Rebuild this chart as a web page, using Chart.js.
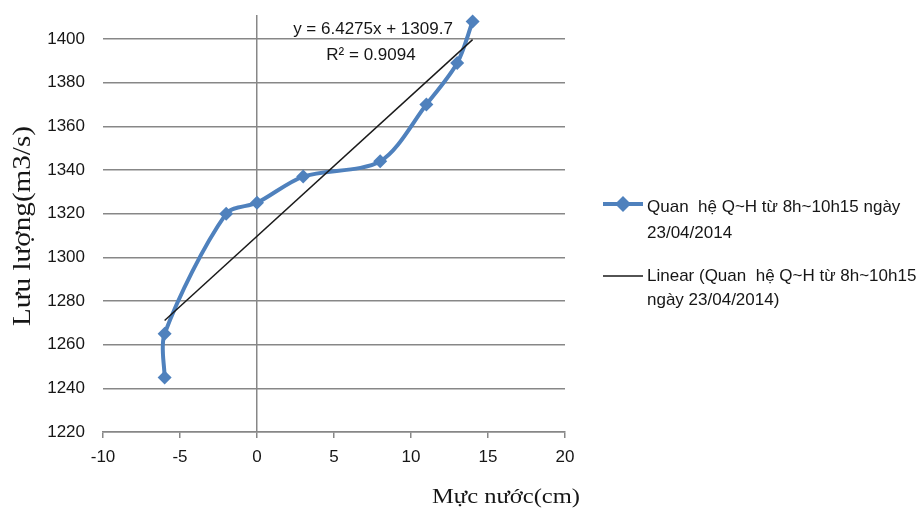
<!DOCTYPE html>
<html>
<head>
<meta charset="utf-8">
<script src="https://cdn.jsdelivr.net/npm/chart.js@4/dist/chart.umd.min.js"></script>
<style>
html,body{margin:0;padding:0;background:#fff;}
#wrap{position:relative;width:920px;height:512px;}
</style>
</head>
<body>
<div id="wrap"><canvas id="c" width="920" height="512"></canvas></div>
<script>
// ---- data ----
const waterLevel = [-6, -6, -2, 0, 3, 8, 11, 13, 14];          // Mực nước (cm)
const discharge  = [1245, 1265, 1320, 1325, 1337, 1344, 1370, 1389, 1408]; // Lưu lượng (m3/s)
const trendX = [-6, 14];
const trendY = [1271.1, 1399.7];
const xTicks = [-10, -5, 0, 5, 10, 15, 20];
const yTicks = [1220, 1240, 1260, 1280, 1300, 1320, 1340, 1360, 1380, 1400];

const seriesLabel = 'Quan  hệ Q~H từ 8h~10h15 ngày 23/04/2014';
const trendLabel = 'Linear (Quan  hệ Q~H từ 8h~10h15 ngày 23/04/2014)';
const legendLines1 = ['Quan  hệ Q~H từ 8h~10h15 ngày', '23/04/2014'];
const legendLines2 = ['Linear (Quan  hệ Q~H từ 8h~10h15', 'ngày 23/04/2014)'];
const eqText = 'y = 6.4275x + 1309.7';
const r2Text = 'R² = 0.9094';
const xTitle = 'Mực nước(cm)';
const yTitle = 'Lưu lượng(m3/s)';

const BLUE = '#4F81BD';
const GRID = '#878787';
const TXT = '#161616';
const SANS = '"Liberation Sans", Arial, sans-serif';
const SERIF = '"Liberation Serif", "Times New Roman", serif';

function fitText(ctx, text, cx, cy, targetLen, rotate) {
  ctx.save();
  ctx.translate(cx, cy);
  if (rotate) ctx.rotate(-Math.PI / 2);
  const w = ctx.measureText(text).width;
  ctx.scale(targetLen / w, 1);
  ctx.textAlign = 'center';
  ctx.textBaseline = 'middle';
  ctx.fillText(text, 0, 0);
  ctx.restore();
}

const extras = {
  id: 'extras',
  afterDraw(chart) {
    const ctx = chart.ctx;
    ctx.save();
    ctx.fillStyle = TXT;
    // trendline equation
    ctx.font = '17px ' + SANS;
    ctx.textAlign = 'center';
    ctx.textBaseline = 'middle';
    ctx.fillText(eqText, 373, 29);
    ctx.fillText(r2Text, 371, 55);
    // axis titles
    ctx.font = '21px ' + SERIF;
    fitText(ctx, xTitle, 506, 497, 148, false);
    ctx.font = '25px ' + SERIF;
    fitText(ctx, yTitle, 23, 226, 200, true);
    // legend
    ctx.lineCap = 'butt';
    ctx.strokeStyle = BLUE;
    ctx.lineWidth = 4;
    ctx.beginPath(); ctx.moveTo(603, 204); ctx.lineTo(643, 204); ctx.stroke();
    ctx.fillStyle = BLUE;
    ctx.beginPath();
    ctx.moveTo(623, 196); ctx.lineTo(631, 204); ctx.lineTo(623, 212); ctx.lineTo(615, 204); ctx.closePath();
    ctx.fill();
    ctx.strokeStyle = '#1a1a1a';
    ctx.lineWidth = 1.5;
    ctx.beginPath(); ctx.moveTo(603, 276); ctx.lineTo(643, 276); ctx.stroke();
    ctx.fillStyle = TXT;
    ctx.font = '17px ' + SANS;
    ctx.textAlign = 'left';
    ctx.fillText(legendLines1[0], 647, 207);
    ctx.fillText(legendLines1[1], 647, 233);
    ctx.fillText(legendLines2[0], 647, 276);
    ctx.fillText(legendLines2[1], 647, 300);
    ctx.restore();
  }
};

new Chart(document.getElementById('c'), {
  type: 'scatter',
  data: {
    datasets: [
      {
        label: seriesLabel,
        data: waterLevel.map((x, i) => ({ x: x, y: discharge[i] })),
        showLine: true,
        tension: 0.3,
        borderColor: BLUE,
        borderWidth: 4,
        backgroundColor: BLUE,
        pointStyle: 'rectRot',
        pointRadius: 7,
        pointBorderWidth: 0,
        order: 1
      },
      {
        label: trendLabel,
        data: trendX.map((x, i) => ({ x: x, y: trendY[i] })),
        showLine: true,
        tension: 0,
        borderColor: '#1a1a1a',
        borderWidth: 1.5,
        pointRadius: 0,
        order: 0
      }
    ]
  },
  options: {
    responsive: false,
    animation: false,
    devicePixelRatio: 1,
    clip: false,
    layout: { padding: { top: 15, right: 355, left: 0, bottom: 0 } },
    plugins: {
      legend: { display: false },
      tooltip: { enabled: false },
      title: { display: false }
    },
    scales: {
      x: {
        type: 'linear',
        min: -10, max: 20,
        afterBuildTicks: s => { s.ticks = xTicks.map(v => ({ value: v })); },
        afterFit: s => { s.height = 80; s.paddingLeft = 0; s.paddingRight = 0; },
        border: { display: true, color: GRID, width: 1.5 },
        grid: {
          color: c => (c.tick && c.tick.value === 0 ? GRID : 'rgba(0,0,0,0)'),
          tickColor: GRID,
          lineWidth: 1.5,
          tickLength: 6,
          drawTicks: true
        },
        ticks: { color: TXT, font: { family: SANS, size: 17 }, padding: 9, maxRotation: 0,
                 callback: v => String(v) }
      },
      y: {
        type: 'linear',
        min: 1220, max: 1411,
        afterBuildTicks: s => { s.ticks = yTicks.map(v => ({ value: v })); },
        afterFit: s => { s.width = 103; s.paddingTop = 0; s.paddingBottom = 0; },
        border: { display: false },
        grid: { color: GRID, lineWidth: 1.5, drawTicks: false },
        ticks: { color: TXT, font: { family: SANS, size: 17 }, padding: 18,
                 callback: v => String(v) }
      }
    }
  },
  plugins: [extras]
});
</script>
</body>
</html>
